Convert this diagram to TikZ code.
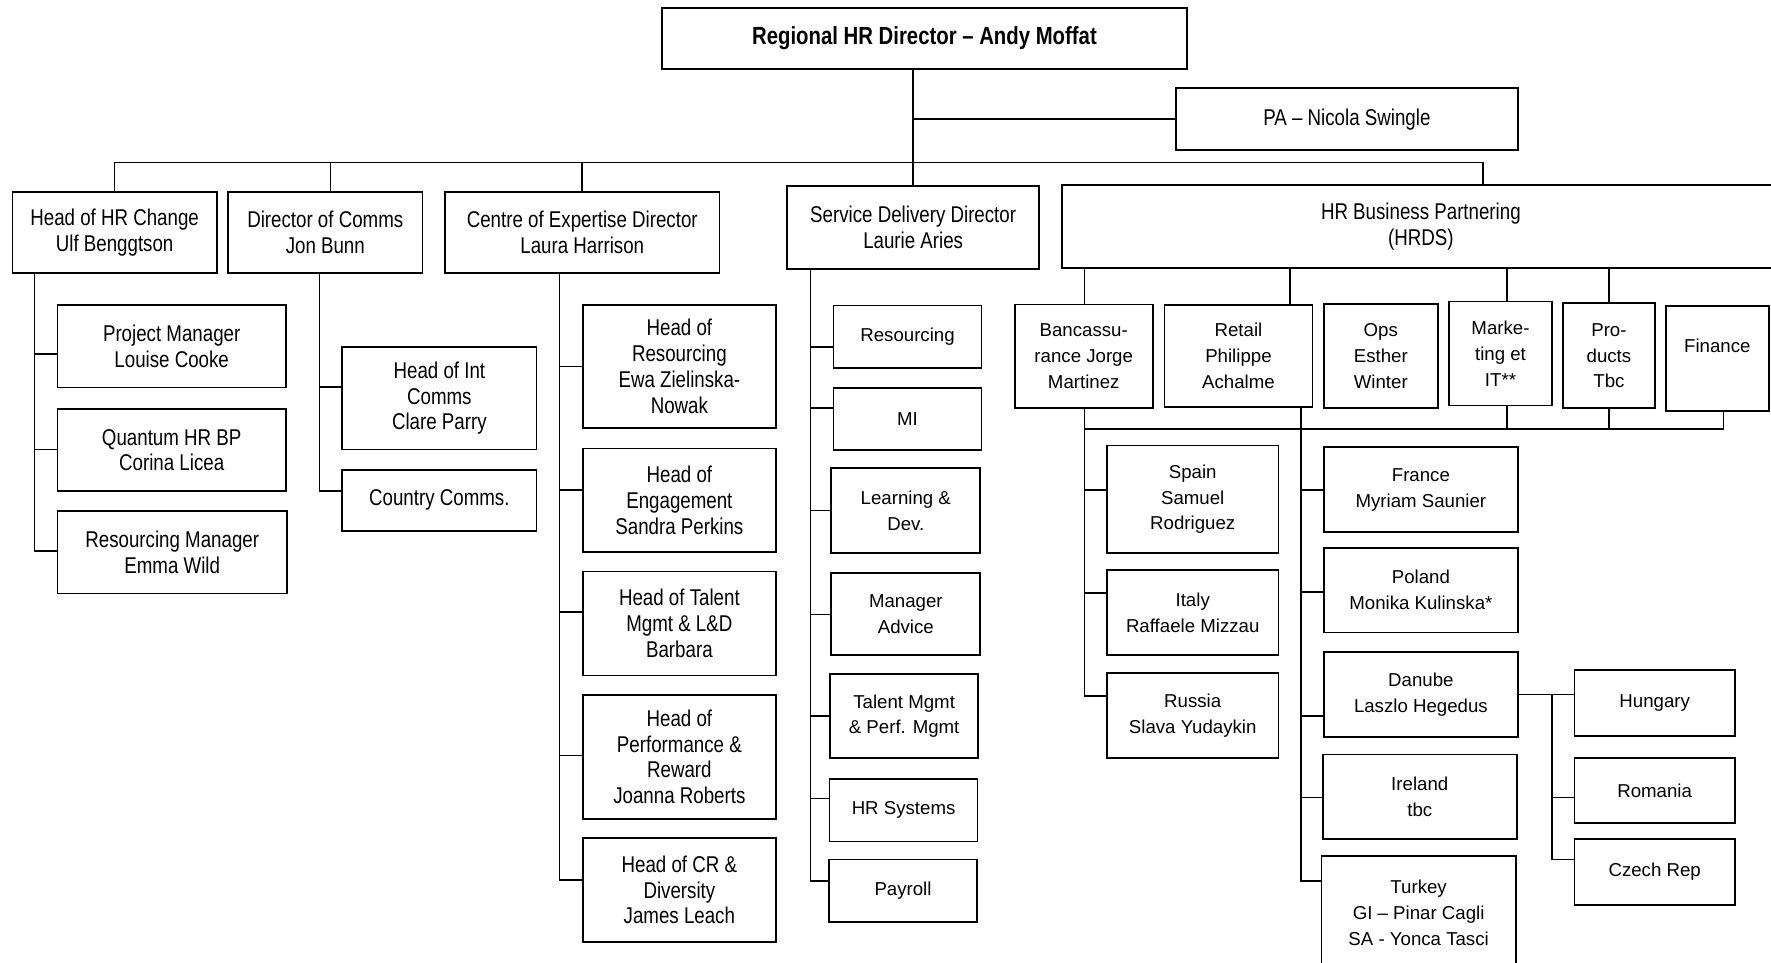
\documentclass[tikz,border=0pt]{standalone}
\usepackage{fontspec}
\setmainfont{Liberation Sans}
\newfontfamily\narrowfont[FakeStretch=0.82]{Liberation Sans}
\usetikzlibrary{positioning}

\begin{document}
\begin{tikzpicture}[
    x=0.02cm, y=-0.02cm,
    box/.style={draw, line width=0.9pt, align=center, inner sep=1pt},
    nbox/.style={box, font=\narrowfont\fontsize{11.5}{13}\selectfont},
    wbox/.style={box, font=\fontsize{9.4}{13}\selectfont},
    sz/.style 2 args={minimum width=#1*0.02cm, minimum height=#2*0.02cm},
    link/.style={line width=0.8pt}
  ]
  \useasboundingbox (0,0) rectangle (1568,852);

  % top of the chart
  \node[nbox, sz={465}{54}, font=\narrowfont\bfseries\fontsize{12.5}{14}\selectfont] (top) at (818.5,34) {Regional HR Director – Andy Moffat};
  \node[nbox, sz={303}{55}] (pa) at (1192.5,105.5) {PA – Nicola Swingle};

  % directors
  \node[nbox, sz={181}{72}] (hrc) at (101.5,206) {Head of HR Change\\Ulf Benggtson};
  \node[nbox, sz={172}{72}] (com) at (288,206) {Director of Comms\\Jon Bunn};
  \node[nbox, sz={243}{72}] (coe) at (515.5,206) {Centre of Expertise Director\\Laura Harrison};
  \node[nbox, sz={223}{73}] (sdd) at (808.5,201.5) {Service Delivery Director\\Laurie Aries};
  \node[nbox, sz={636}{73}] (hrbp) at (1258,200.5) {HR Business Partnering\\(HRDS)};

  % HR change, comms, expertise teams
  \node[nbox, sz={202}{73}] (pm) at (152,306.5) {Project Manager\\Louise Cooke};
  \node[nbox, sz={202}{73}] (qhr) at (152,398.5) {Quantum HR BP\\Corina Licea};
  \node[nbox, sz={203}{73}] (rm) at (152.5,489) {Resourcing Manager\\Emma Wild};
  \node[nbox, sz={172}{91}] (hic) at (389,352.5) {Head of Int\\Comms\\Clare Parry};
  \node[nbox, sz={172}{54}] (cc) at (389,443) {Country Comms.};
  \node[nbox, sz={171}{109}] (hor) at (601.5,324.5) {Head of\\Resourcing\\Ewa Zielinska-\\Nowak};
  \node[nbox, sz={171}{92}] (hoe) at (601.5,443) {Head of\\Engagement\\Sandra Perkins};
  \node[nbox, sz={171}{92}] (hot) at (601.5,552) {Head of Talent\\Mgmt \& L\&D\\Barbara};
  \node[nbox, sz={171}{110}] (hop) at (601.5,670) {Head of\\Performance \&\\Reward\\Joanna Roberts};
  \node[nbox, sz={171}{92}] (hcr) at (601.5,788) {Head of CR \&\\Diversity\\James Leach};

  % service delivery
  \node[wbox, sz={131}{55}] (res) at (803.5,298) {Resourcing};
  \node[wbox, sz={131}{55}] (mi) at (803.5,371) {MI};
  \node[wbox, sz={132}{75}] (lnd) at (802,452) {Learning \&\\Dev.};
  \node[wbox, sz={132}{73}] (mga) at (802,543.5) {Manager\\Advice};
  \node[wbox, sz={131}{74}] (tmp) at (800.5,634) {Talent Mgmt\\\& Perf. Mgmt};
  \node[wbox, sz={131}{55}] (hrs) at (800,717.5) {HR Systems};
  \node[wbox, sz={131}{55}] (pay) at (799.5,788.5) {Payroll};

  % business partnering
  \node[wbox, sz={122}{92}] (ban) at (959.5,315.5) {Bancassu-\\rance Jorge\\Martinez};
  \node[wbox, sz={131}{90}] (ret) at (1096.5,315) {Retail\\Philippe\\Achalme};
  \node[wbox, sz={101}{92}] (ops) at (1222.5,315) {Ops\\Esther\\Winter};
  \node[wbox, sz={91}{92}] (mkt) at (1328.5,313) {Marke-\\ting et\\IT**};
  \node[wbox, sz={81}{93}] (prd) at (1424.5,315) {Pro-\\ducts\\Tbc};
  \node[wbox, sz={91}{93}] (fin) at (1520.5,317.5) {Finance\\\mbox{}};

  % countries
  \node[wbox, sz={152}{95}] (spn) at (1056,442) {Spain\\Samuel\\Rodriguez};
  \node[wbox, sz={152}{75}] (ita) at (1056,542.5) {Italy\\Raffaele Mizzau};
  \node[wbox, sz={152}{75}] (rus) at (1056,633.5) {Russia\\Slava Yudaykin};
  \node[wbox, sz={172}{75}] (fra) at (1258,433.5) {France\\Myriam Saunier};
  \node[wbox, sz={172}{75}] (pol) at (1258,522.5) {Poland\\Monika Kulinska*};
  \node[wbox, sz={172}{75}] (dan) at (1258,615) {Danube\\Laszlo Hegedus};
  \node[wbox, sz={172}{75}] (ire) at (1257,705.5) {Ireland\\tbc};
  \node[wbox, sz={172}{100}] (tur) at (1256,808) {Turkey\\GI – Pinar Cagli\\SA - Yonca Tasci};
  \node[wbox, sz={142}{58}] (hun) at (1465,622.5) {Hungary};
  \node[wbox, sz={142}{58}] (rom) at (1465,700) {Romania};
  \node[wbox, sz={142}{58}] (cze) at (1465,772) {Czech Rep};

  % connectors
  \draw[link] (top.south -| sdd.north) -- (sdd.north);
  \draw[link] (pa.west) -- (pa.west -| sdd.north);
  \coordinate (bus) at (0,144);
  \draw[link] (hrc.north) |- (bus -| 1313,0) -- (hrbp.north -| 1313,0);
  \draw[link] (com.north -| 292.5,0) -- (bus -| 292.5,0);
  \draw[link] (coe.north) -- (bus -| coe.north);

  \foreach \n/\y in {pm/313.5, qhr/398, rm/488}
    \draw[link] (hrc.south -| 30.5,0) |- (\n.west |- 0,\y);
  \foreach \n/\y in {hic/342.5, cc/434.5}
    \draw[link] (com.south -| 283,0) |- (\n.west |- 0,\y);
  \foreach \n/\y in {hor/324.5, hoe/434, hot/542, hop/669, hcr/779}
    \draw[link] (coe.south -| 495.5,0) |- (\n.west |- 0,\y);
  \foreach \n/\y in {res/307, mi/361, lnd/452, mga/544, tmp/634, hrs/707, pay/780}
    \draw[link] (sdd.south -| 717.5,0) |- (\n.west |- 0,\y);

  \foreach \n/\x in {ban/960, ret/1142, mkt/1334, prd/1424.5}
    \draw[link] (hrbp.south -| \x,0) -- (\n.north -| \x,0);
  \coordinate (bus2) at (0,380);
  \foreach \n/\x in {mkt/1334, prd/1424.5, fin/1526}
    \draw[link] (\n.south -| \x,0) -- (bus2 -| \x,0);
  \draw[link] (bus2 -| ban.south) -- (bus2 -| 1526,0);
  \foreach \n/\y in {spn/434, ita/525, rus/616}
    \draw[link] (ban.south -| 960,0) |- (\n.west |- 0,\y);
  \foreach \n/\y in {fra/434, pol/524, dan/634, ire/706, tur/780}
    \draw[link] (ret.south -| 1152,0) |- (\n.west |- 0,\y);
  \draw[link] (dan.east) -- (hun.west |- dan.east);
  \foreach \n/\y in {rom/706, cze/761}
    \draw[link] (dan.east -| 1374,0) |- (\n.west |- 0,\y);
\end{tikzpicture}
\end{document}
